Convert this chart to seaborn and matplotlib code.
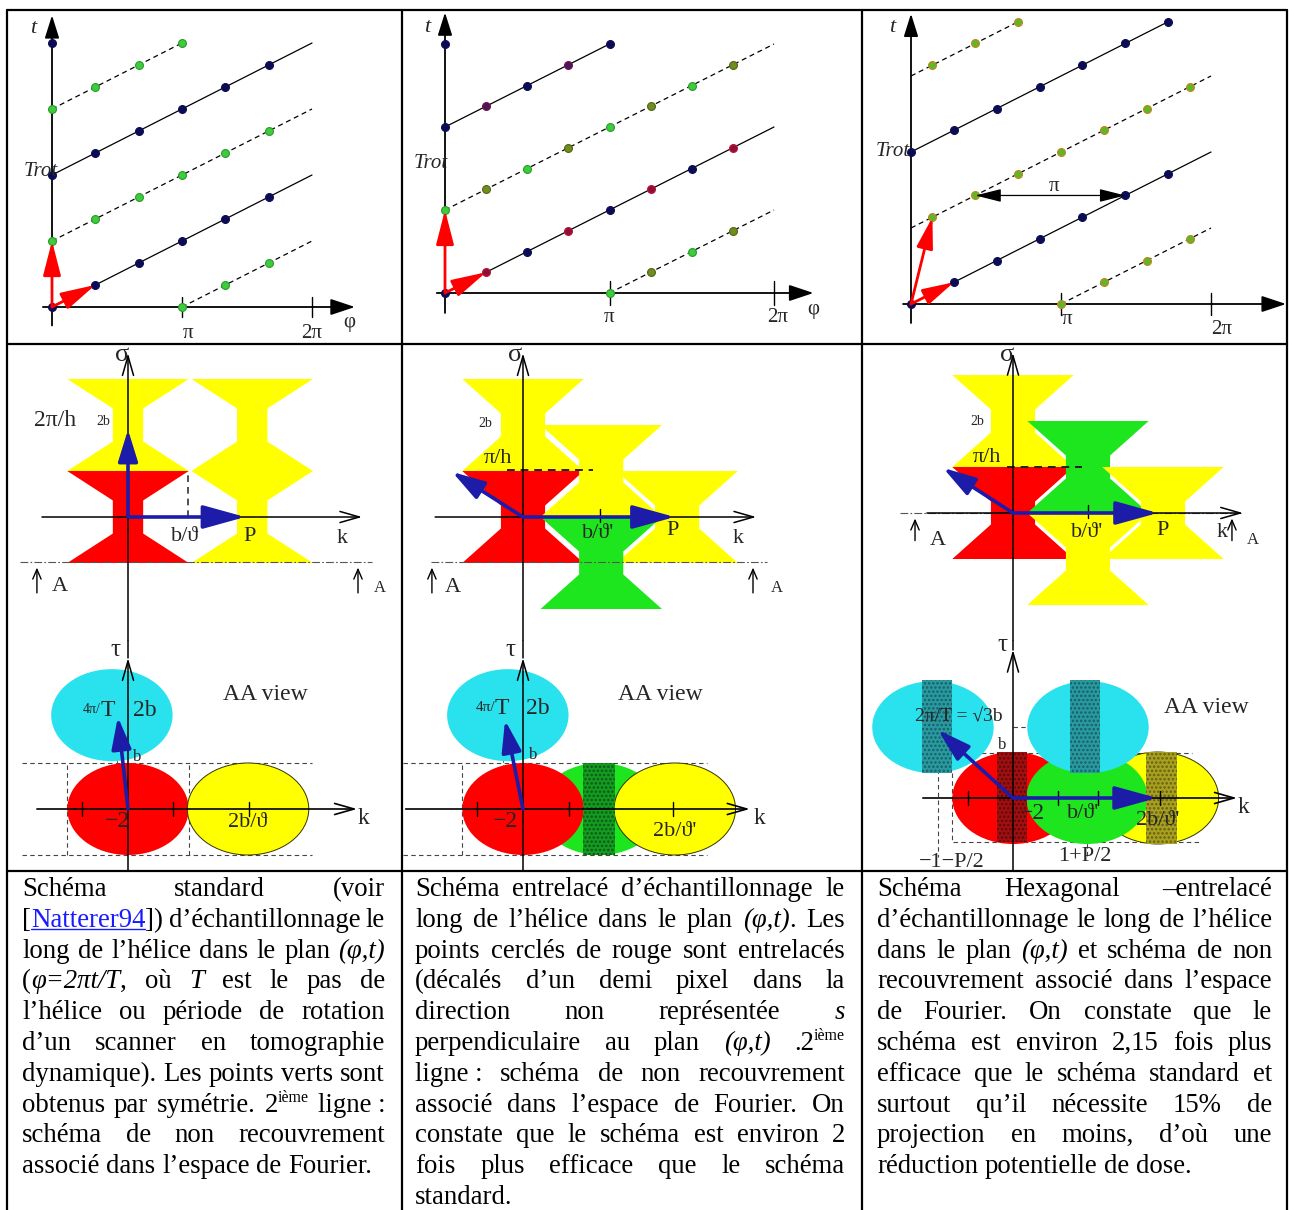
import re
import numpy as np
import pandas as pd
import matplotlib
matplotlib.use("Agg")
import matplotlib.pyplot as plt
import seaborn as sns
from matplotlib.patches import Polygon, Ellipse, Rectangle

sns.set_theme(style="white")
plt.rcParams["font.family"] = ["Liberation Serif", "DejaVu Serif"]
plt.rcParams["hatch.linewidth"] = 1.2

W_PX, H_PX = 1289, 1210

# ---------------- table layout (pixels) ----------------
COL_EDGES = [7, 402, 862, 1287]
ROW_EDGES = [10, 344, 871]
TABLE_BOTTOM = 1210
SPLIT_Y = 640

# ---------------- colours ----------------
RED, YELLOW, GREEN, CYAN = "#ff0000", "#ffff00", "#1ee61e", "#2ae2ee"
ARROW_BLUE, NAVY = "#1c1ca8", "#0c0c55"
DOT_GREEN, OLIVE, MAROON, PURPLE = "#3ccc3c", "#6d8f1c", "#8a1236", "#4a1660"
LINK_BLUE = "#1a1aff"

# ================= Row 1: sampling in (phi [pi], t [Trot]) =================
# panel 1 : standard
S1_BLUE_PHI = [0, 0.333, 0.667, 1.0, 1.333, 1.667, 0, 0.333, 0.667, 1.0, 1.333, 1.667, 0]
S1_BLUE_T = [0, 0.167, 0.333, 0.5, 0.667, 0.833, 1.0, 1.167, 1.333, 1.5, 1.667, 1.833, 2.0]
S1_GREEN_PHI = [0, 0.333, 0.667, 1.0, 1.333, 1.667, 0, 0.333, 0.667, 1.0, 1.0, 1.333, 1.667]
S1_GREEN_T = [0.5, 0.667, 0.833, 1.0, 1.167, 1.333, 1.5, 1.667, 1.833, 2.0, 0, 0.167, 0.333]
S1_SOLID_PHI = [[0, 2], [0, 2]]
S1_SOLID_T = [[0, 1], [1, 2]]
S1_DASH_PHI = [[0, 2], [0, 1], [1, 2]]
S1_DASH_T = [[0.5, 1.5], [1.5, 2.0], [0, 0.5]]
S1_RED_TIPS = [(0, 0.5), (0.333, 0.167)]

# panel 2 : interlaced
S2_BLUE_PHI = [0, 0.5, 1.0, 1.5, 0, 0.5, 1.0, 0]
S2_BLUE_T = [0, 0.25, 0.5, 0.75, 1.0, 1.25, 1.5, 1.5]
S2_PURPLE_PHI = [0.25, 0.75]
S2_PURPLE_T = [1.125, 1.375]
S2_RED_PHI = [0.25, 0.75, 1.25, 1.75]
S2_RED_T = [0.125, 0.375, 0.625, 0.875]
S2_GREEN_PHI = [0, 0.5, 1.0, 1.5, 1.0, 1.5]
S2_GREEN_T = [0.5, 0.75, 1.0, 1.25, 0, 0.25]
S2_OLIVE_PHI = [0.25, 0.75, 1.25, 1.75, 1.25, 1.75]
S2_OLIVE_T = [0.625, 0.875, 1.125, 1.375, 0.125, 0.375]
S2_SOLID_PHI = [[0, 2], [0, 1]]
S2_SOLID_T = [[0, 1], [1, 1.5]]
S2_DASH_PHI = [[0, 2], [1, 2]]
S2_DASH_T = [[0.5, 1.5], [0, 0.5]]
S2_RED_TIPS = [(0, 0.5), (0.25, 0.125)]

# panel 3 : hexagonal
S3_BLUE_PHI = [0, 0.286, 0.571, 0.857, 1.143, 1.429, 1.714, 0, 0.286, 0.571, 0.857, 1.143, 1.429, 1.714]
S3_BLUE_T = [0, 0.143, 0.286, 0.429, 0.571, 0.714, 0.857, 1.0, 1.143, 1.286, 1.429, 1.571, 1.714, 1.857]
S3_GREEN_PHI = [0.143, 0.429, 0.714, 1.0, 1.286, 1.571, 1.857, 0.143, 0.429, 0.714, 1.0, 1.286, 1.571, 1.857]
S3_GREEN_T = [0.571, 0.714, 0.857, 1.0, 1.143, 1.286, 1.429, 1.571, 1.714, 1.857, 0, 0.143, 0.286, 0.429]
S3_SOLID_PHI = [[0, 2], [0, 1.714]]
S3_SOLID_T = [[0, 1], [1, 1.857]]
S3_DASH_PHI = [[0, 2], [0, 0.714], [1, 2]]
S3_DASH_T = [[0.5, 1.5], [1.5, 1.857], [0, 0.5]]
S3_RED_TIPS = [(0.143, 0.571), (0.286, 0.143)]
S3_PI_SPAN = [(0.429, 0.714), (1.429, 0.714)]

# ================= Row 2a: non-overlap hourglasses (units of b) =================
# standard scheme (b/theta) and interlaced schemes (b/theta')
HG_X = [-1.32, 1.32, 0.33, 0.33, 1.32, -1.32, -0.33, -0.33]
HG_Y = [1.0, 1.0, 0.36, -0.36, -1.0, -1.0, -0.36, 0.36]
HG2_X = [-1.32, 1.32, 0.48, 0.48, 1.32, -1.32, -0.48, -0.48]
HG2_Y = [1.0, 1.0, 0.25, -0.25, -1.0, -1.0, -0.25, 0.25]
F1_CX = [0, 0, 2.7, 2.7]
F1_CY = [0, 2, 0, 2]
F1_COL = [RED, YELLOW, YELLOW, YELLOW]
F2_CX = [0, 0, 1.7, 3.35, 1.7]
F2_CY = [0, 2, 1, 0, -1]
F2_COL = [RED, YELLOW, YELLOW, YELLOW, GREEN]
F3_CX = [0, 0, 1.63, 3.26, 1.63]
F3_CY = [0, 2, 1, 0, -1]
F3_COL = [RED, YELLOW, GREEN, YELLOW, YELLOW]

# ================= Row 2b: AA view ellipses (units of b) =================
EW, EH = 1.32, 1.0
E1_CX = [0, 2.61, -0.35]
E1_CY = [0, 0, 2.04]
E1_COL = [RED, YELLOW, CYAN]
E2_CX = [1.67, 0, 3.3, -0.33]
E2_CY = [0, 0, 0, 2.04]
E2_COL = [GREEN, RED, YELLOW, CYAN]
E3_CX = [0, 3.15, 1.61, -1.74, 1.63]
E3_CY = [0, 0, 0, 1.54, 1.54]
E3_COL = [RED, YELLOW, GREEN, CYAN, CYAN]
E2_STRIPS = [(1.3, 2.0, -1.0, 1.0, "#159a22", "#0a5a12")]
E3_STRIPS = [(-1.98, -1.33, 0.54, 2.57, "#2a9aa0", "#156068"),
             (1.24, 1.89, 0.54, 2.57, "#2a9aa0", "#156068"),
             (-0.35, 0.30, -0.96, 1.0, "#a01010", "#600808"),
             (2.89, 3.57, -1.0, 1.0, "#a8a020", "#666010")]

# ================= Row 3: captions =================
COL1_TEXT = [
    "Schéma standard (voir",
    "[{u|Natterer94}]) d’échantillonnage le",
    "long de l’hélice dans le plan {i|(φ,t)}",
    "({i|φ=2πt/T}, où {i|T} est le pas de",
    "l’hélice ou période de rotation",
    "d’un scanner en tomographie",
    "dynamique). Les points verts sont",
    "obtenus par symétrie. 2{s|ième} ligne\u00a0:",
    "schéma de non recouvrement",
    "associé dans l’espace de Fourier.",
]
COL2_TEXT = [
    "Schéma entrelacé d’échantillonnage le",
    "long de l’hélice dans le plan {i|(φ,t)}. Les",
    "points cerclés de rouge sont entrelacés",
    "(décalés d’un demi pixel dans la",
    "direction non représentée {i|s}",
    "perpendiculaire au plan {i|(φ,t)} .2{s|ième}",
    "ligne\u00a0: schéma de non recouvrement",
    "associé dans l’espace de Fourier. On",
    "constate que le schéma est environ 2",
    "fois plus efficace que le schéma",
    "standard.",
]
COL3_TEXT = [
    "Schéma Hexagonal –entrelacé",
    "d’échantillonnage le long de l’hélice",
    "dans le plan {i|(φ,t)} et schéma de non",
    "recouvrement associé dans l’espace",
    "de Fourier. On constate que le",
    "schéma est environ 2,15 fois plus",
    "efficace que le schéma standard et",
    "surtout qu’il  nécessite 15% de",
    "projection en moins, d’où une",
    "réduction potentielle de dose.",
]
TEXT_MARGINS = [(22, 385), (415, 845), (877, 1272)]
TEXT_BASE0, TEXT_LEAD = 896, 30.8
CAL_LINE, CAL_WIDTH = "associé dans l’espace de Fourier.", 350

# =====================================================================
fig = plt.figure(figsize=(W_PX / 100, H_PX / 100), dpi=100)
bg = fig.add_axes([0, 0, 1, 1])
bg.set_xlim(0, W_PX)
bg.set_ylim(H_PX, 0)
bg.set_axis_off()

for x in COL_EDGES:
    bg.plot([x, x], [ROW_EDGES[0], TABLE_BOTTOM], color="black", lw=1.6)
for y in ROW_EDGES:
    bg.plot([COL_EDGES[0], COL_EDGES[-1]], [y, y], color="black", lw=1.6)


def add_panel(cell, origin, scale):
    x0, y0, x1, y1 = cell
    ax = fig.add_axes([x0 / W_PX, 1 - y1 / H_PX, (x1 - x0) / W_PX, (y1 - y0) / H_PX])
    ax.set_axis_off()
    lims = (((x0 - origin[0]) / scale[0], (x1 - origin[0]) / scale[0]),
            ((origin[1] - y1) / scale[1], (origin[1] - y0) / scale[1]))
    return ax, lims


def fix(ax, lims):
    ax.set_xlim(*lims[0])
    ax.set_ylim(*lims[1])


def arrow(ax, p0, p1, style="-|>", hl=0.65, hw=0.22, lw=1.2, color="black", ms=20, z=4):
    ax.annotate("", xy=p1, xytext=p0, annotation_clip=False,
                arrowprops=dict(arrowstyle=f"{style},head_length={hl},head_width={hw}",
                                color=color, lw=lw, shrinkA=0, shrinkB=0, mutation_scale=ms),
                zorder=z)


def seg_df(xs, ys):
    rows = []
    for k, (xx, yy) in enumerate(zip(xs, ys)):
        for a, b in zip(xx, yy):
            rows.append((k, a, b))
    return pd.DataFrame(rows, columns=["seg", "x", "y"])


def lines(ax, xs, ys, dashed=False, lw=0.9, color="black"):
    kw = dict(linestyle=(0, (4, 3))) if dashed else {}
    sns.lineplot(data=seg_df(xs, ys), x="x", y="y", units="seg", estimator=None, sort=False,
                 color=color, lw=lw, ax=ax, legend=False, zorder=2, **kw)


def dots(ax, xs, ys, face, edge, s=32):
    sns.scatterplot(x=xs, y=ys, ax=ax, color=face, edgecolor=edge, linewidth=0.8, s=s,
                    zorder=5, legend=False)


def txt(ax, x, y, s, size, **kw):
    kw.setdefault("ha", "center")
    kw.setdefault("va", "center")
    ax.text(x, y, s, fontsize=size, zorder=8, **kw)


# ---------------- Row 1 panels ----------------
def sampling_axes(ax, xr, yr, tick_y):
    arrow(ax, (0, yr[0]), (0, yr[1]), hl=0.7, hw=0.22, lw=1.3)
    arrow(ax, (xr[0], 0), (xr[1], 0), hl=0.75, hw=0.25, lw=1.3)
    for p in (1, 2):
        ax.plot([p, p], [-tick_y, tick_y], color="black", lw=1.0, zorder=3)


def red_arrows(ax, tips, hl=1.05, hw=0.27):
    for tip in tips:
        arrow(ax, (0, 0), tip, hl=hl, hw=hw, lw=2.0, color=RED, z=6)


# panel 1
ax, lim = add_panel((COL_EDGES[0], ROW_EDGES[0], COL_EDGES[1], ROW_EDGES[1]), (52, 307), (130, 132))
sampling_axes(ax, (-0.07, 2.33), (-0.14, 2.21), 0.076)
lines(ax, S1_SOLID_PHI, S1_SOLID_T)
lines(ax, S1_DASH_PHI, S1_DASH_T, dashed=True)
dots(ax, S1_BLUE_PHI, S1_BLUE_T, NAVY, NAVY)
dots(ax, S1_GREEN_PHI, S1_GREEN_T, DOT_GREEN, "#2a9a2a")
red_arrows(ax, S1_RED_TIPS)
txt(ax, -0.146, 2.11, "t", 16, style="italic")
txt(ax, -0.09, 1.03, "Trot", 15, style="italic")
txt(ax, 1.05, -0.20, "π", 15)
txt(ax, 2.0, -0.20, "2π", 15)
txt(ax, 2.29, -0.12, "φ", 15)
fix(ax, lim)

# panel 2
ax, lim = add_panel((COL_EDGES[1], ROW_EDGES[0], COL_EDGES[2], ROW_EDGES[1]), (445, 293), (164.5, 166))
sampling_axes(ax, (-0.05, 2.24), (-0.12, 1.69), 0.07)
lines(ax, S2_SOLID_PHI, S2_SOLID_T)
lines(ax, S2_DASH_PHI, S2_DASH_T, dashed=True)
dots(ax, S2_BLUE_PHI, S2_BLUE_T, NAVY, NAVY)
dots(ax, S2_PURPLE_PHI, S2_PURPLE_T, PURPLE, "#7a1040")
dots(ax, S2_RED_PHI, S2_RED_T, MAROON, "#c0103a")
dots(ax, S2_GREEN_PHI, S2_GREEN_T, DOT_GREEN, "#2a9a2a")
dots(ax, S2_OLIVE_PHI, S2_OLIVE_T, OLIVE, "#55601a")
red_arrows(ax, S2_RED_TIPS)
txt(ax, -0.11, 1.60, "t", 16, style="italic")
txt(ax, -0.085, 0.78, "Trot", 15, style="italic")
txt(ax, 1.0, -0.145, "π", 15)
txt(ax, 2.02, -0.145, "2π", 15)
txt(ax, 2.24, -0.10, "φ", 15)
fix(ax, lim)

# panel 3
ax, lim = add_panel((COL_EDGES[2], ROW_EDGES[0], COL_EDGES[3], ROW_EDGES[1]), (911, 304), (150, 152))
sampling_axes(ax, (-0.053, 2.5), (-0.125, 1.91), 0.07)
lines(ax, S3_SOLID_PHI, S3_SOLID_T)
lines(ax, S3_DASH_PHI, S3_DASH_T, dashed=True)
dots(ax, S3_BLUE_PHI, S3_BLUE_T, NAVY, NAVY)
dots(ax, S3_GREEN_PHI, S3_GREEN_T, "#5cb82a", "#c8821a")
red_arrows(ax, S3_RED_TIPS, hl=0.95, hw=0.25)
arrow(ax, S3_PI_SPAN[0], S3_PI_SPAN[1], style="<|-|>", hl=0.8, hw=0.2, lw=0.9, z=6)
txt(ax, 0.953, 0.77, "π", 15)
txt(ax, -0.127, 1.82, "t", 16, style="italic")
txt(ax, -0.12, 1.0, "Trot", 15, style="italic")
txt(ax, 1.04, -0.105, "π", 15)
txt(ax, 2.07, -0.17, "2π", 15)
fix(ax, lim)


# ---------------- Row 2a: hourglasses ----------------
def hourglasses(ax, cx, cy, cols, gx, gy):
    for x, y, c in zip(cx, cy, cols):
        pts = np.column_stack([np.array(gx) + x, np.array(gy) + y])
        ax.add_patch(Polygon(pts, closed=True, facecolor=c, edgecolor="none", zorder=1))


def aa_marks(ax, y_line, x_line, left, right):
    ax.plot(x_line, [y_line, y_line], color="#555555", lw=0.8, dashes=(7, 2, 1.5, 2), zorder=2)
    for (x, y0, y1) in (left, right):
        arrow(ax, (x, y0), (x, y1), style="->", hl=0.35, hw=0.15, lw=1.0, ms=20)


def blue_arrow(ax, tip, hl=1.3, hw=0.36):
    arrow(ax, (0, 0), tip, hl=hl, hw=hw, lw=2.6, color=ARROW_BLUE, z=6)


S = 46.0
# panel 4
ax, lim = add_panel((COL_EDGES[0], ROW_EDGES[1], COL_EDGES[1], SPLIT_Y), (128, 517), (S, S))
hourglasses(ax, F1_CX, F1_CY, F1_COL, HG_X, HG_Y)
aa_marks(ax, -0.98, [-2.35, 5.3], (-1.98, -1.65, -1.1), (5.0, -1.65, -1.1))
arrow(ax, (0, lim[1][0]), (0, 3.56), style="->", hl=0.7, hw=0.2, lw=1.1)
arrow(ax, (-1.87, 0), (5.09, 0), style="->", hl=0.7, hw=0.2, lw=1.1)
ax.plot([1.3, 1.3], [0, 1], color="#333333", lw=1.2, dashes=(4, 3), zorder=3)
ax.plot([1.67, 1.67], [-0.1, 0.18], color="black", lw=1.0, zorder=3)
blue_arrow(ax, (2.55, 0))
blue_arrow(ax, (0, 1.9), hl=0.97, hw=0.3)
txt(ax, -0.13, 3.52, "σ", 19)
txt(ax, -1.59, 2.10, "2π/h", 17)
txt(ax, -0.54, 2.07, "2b", 10)
txt(ax, 1.24, -0.43, "b/ϑ", 16)
txt(ax, 2.65, -0.43, "P", 16)
txt(ax, 4.65, -0.46, "k", 16)
txt(ax, -1.48, -1.52, "A", 16)
txt(ax, 5.48, -1.54, "A", 12)
fix(ax, lim)

# panel 5
ax, lim = add_panel((COL_EDGES[1], ROW_EDGES[1], COL_EDGES[2], SPLIT_Y), (523, 517), (S, S))
hourglasses(ax, F2_CX, F2_CY, F2_COL, HG2_X, HG2_Y)
aa_marks(ax, -0.98, [-2.0, 5.3], (-1.98, -1.65, -1.1), (5.0, -1.65, -1.1))
arrow(ax, (0, lim[1][0]), (0, 3.56), style="->", hl=0.7, hw=0.2, lw=1.1)
arrow(ax, (-1.91, 0), (5.07, 0), style="->", hl=0.7, hw=0.2, lw=1.1)
ax.plot([-0.35, 1.52], [1.02, 1.02], color="#222222", lw=1.4, dashes=(4, 3), zorder=3)
ax.plot([1.67, 1.67], [-0.1, 0.18], color="black", lw=1.0, zorder=3)
blue_arrow(ax, (3.3, 0))
blue_arrow(ax, (-1.54, 0.98), hl=1.0, hw=0.3)
txt(ax, -0.17, 3.52, "σ", 19)
txt(ax, -0.83, 2.04, "2b", 10)
txt(ax, -0.54, 1.28, "π/h", 16)
txt(ax, 1.63, -0.35, "b/ϑ'", 16)
txt(ax, 3.26, -0.30, "P", 16)
txt(ax, 4.67, -0.46, "k", 16)
txt(ax, -1.52, -1.54, "A", 16)
txt(ax, 5.52, -1.54, "A", 12)
fix(ax, lim)

# panel 6
ax, lim = add_panel((COL_EDGES[2], ROW_EDGES[1], COL_EDGES[3], SPLIT_Y), (1013, 513), (S, S))
hourglasses(ax, F3_CX, F3_CY, F3_COL, HG2_X, HG2_Y)
aa_marks(ax, 0.0, [-2.46, 5.0], (-2.13, -0.6, -0.12), (4.76, -0.6, -0.12))
arrow(ax, (0, lim[1][0]), (0, 3.48), style="->", hl=0.7, hw=0.2, lw=1.1)
arrow(ax, (-1.87, 0), (5.0, 0), style="->", hl=0.7, hw=0.2, lw=1.1)
ax.plot([-0.13, 1.5], [1.0, 1.0], color="#222222", lw=1.4, dashes=(4, 3), zorder=3)
ax.plot([1.63, 1.63], [-0.1, 0.18], color="black", lw=1.0, zorder=3)
blue_arrow(ax, (3.15, 0))
blue_arrow(ax, (-1.52, 0.98), hl=1.0, hw=0.3)
txt(ax, -0.13, 3.43, "σ", 19)
txt(ax, -0.78, 1.98, "2b", 10)
txt(ax, -0.57, 1.20, "π/h", 16)
txt(ax, 1.61, -0.43, "b/ϑ'", 16)
txt(ax, 3.26, -0.37, "P", 16)
txt(ax, 4.54, -0.43, "k", 16)
txt(ax, -1.63, -0.59, "A", 16)
txt(ax, 5.22, -0.59, "A", 12)
fix(ax, lim)


# ---------------- Row 2b: AA views ----------------
def ellipses(ax, cx, cy, cols):
    for x, y, c in zip(cx, cy, cols):
        ec = "#333300" if c == YELLOW else "none"
        ax.add_patch(Ellipse((x, y), 2 * EW, 2 * EH, facecolor=c, edgecolor=ec, lw=0.7, zorder=2))


def strips(ax, items):
    for x0, x1, y0, y1, fc, hc in items:
        ax.add_patch(Rectangle((x0, y0), x1 - x0, y1 - y0, facecolor=fc, edgecolor=hc,
                               hatch="....", lw=0, zorder=3))


def dash(ax, xs, ys, lw=0.8):
    ax.plot(xs, ys, color="#444444", lw=lw, dashes=(4, 3), zorder=1)


def ticks(ax, xs, h=0.16):
    for x in xs:
        ax.plot([x, x], [-h, h], color="black", lw=1.0, zorder=5)


def tau_axis(ax, lim, top):
    arrow(ax, (0, lim[1][0]), (0, top), style="->", hl=0.7, hw=0.2, lw=1.1)
    ax.plot([0, 0], [top, lim[1][1]], color="black", lw=1.1, zorder=4)


# panel 7
ax, lim = add_panel((COL_EDGES[0], SPLIT_Y, COL_EDGES[1], ROW_EDGES[2]), (128, 809), (S, S))
dash(ax, [-2.3, 4.0], [1, 1]); dash(ax, [-2.3, 4.0], [-1, -1])
dash(ax, [-1.33, -1.33], [-1, 1]); dash(ax, [1.32, 1.32], [-1, 1])
dash(ax, [-0.24, -0.24], [1, 2.04], lw=0.6)
ellipses(ax, E1_CX, E1_CY, E1_COL)
arrow(ax, (-1.98, 0), (4.98, 0), style="->", hl=0.7, hw=0.2, lw=1.2)
tau_axis(ax, lim, 3.28)
ticks(ax, [-1.0, 0.98, 2.63])
blue_arrow(ax, (-0.22, 2.0), hl=0.97, hw=0.3)
txt(ax, -0.28, 3.46, "τ", 18)
txt(ax, 5.13, -0.20, "k", 17)
txt(ax, 2.98, 2.48, "AA view", 17)
txt(ax, -0.6, 2.17, "4π/", 10, ha="right")
txt(ax, -0.44, 2.15, "T", 17)
txt(ax, 0.37, 2.15, "2b", 17)
txt(ax, 0.2, 1.13, "b", 12)
txt(ax, -0.22, -0.28, "−2", 17)
txt(ax, 2.6, -0.30, "2b/ϑ", 16)
fix(ax, lim)

# panel 8
ax, lim = add_panel((COL_EDGES[1], SPLIT_Y, COL_EDGES[2], ROW_EDGES[2]), (523, 809), (S, S))
dash(ax, [-2.6, 4.0], [1, 1]); dash(ax, [-2.6, 4.0], [-1, -1])
dash(ax, [-1.33, -1.33], [-1, 1])
dash(ax, [-0.43, -0.43], [0, 1.93], lw=0.6)
ellipses(ax, E2_CX, E2_CY, E2_COL)
strips(ax, E2_STRIPS)
arrow(ax, (-2.55, 0), (4.93, 0), style="->", hl=0.7, hw=0.2, lw=1.2)
tau_axis(ax, lim, 3.28)
ticks(ax, [-1.0, 1.0, 3.26])
blue_arrow(ax, (-0.39, 1.93), hl=0.97, hw=0.3)
txt(ax, -0.28, 3.46, "τ", 18)
txt(ax, 5.15, -0.20, "k", 17)
txt(ax, 2.98, 2.48, "AA view", 17)
txt(ax, -0.6, 2.2, "4π/", 11, ha="right")
txt(ax, -0.45, 2.18, "T", 17)
txt(ax, 0.33, 2.18, "2b", 17)
txt(ax, 0.22, 1.17, "b", 12)
txt(ax, -0.39, -0.28, "−2", 17)
txt(ax, 3.3, -0.50, "2b/ϑ'", 16)
fix(ax, lim)

# panel 9
ax, lim = add_panel((COL_EDGES[2], SPLIT_Y, COL_EDGES[3], ROW_EDGES[2]), (1013, 798), (S, S))
dash(ax, [0, 1.67], [1.54, 1.54]); dash(ax, [-1.87, 3.9], [0.98, 0.98]); dash(ax, [-1.3, 4.07], [-0.96, -0.96])
dash(ax, [-1.63, -1.63], [1.48, -1.28]); dash(ax, [-1.33, -1.33], [0.54, -0.96])
dash(ax, [1.3, 1.3], [0.98, -0.96]); dash(ax, [1.61, 1.61], [1.54, -1.28])
ellipses(ax, E3_CX, E3_CY, E3_COL)
strips(ax, E3_STRIPS)
arrow(ax, (-1.96, 0), (4.87, 0), style="->", hl=0.7, hw=0.2, lw=1.2)
tau_axis(ax, lim, 3.22)
ticks(ax, [-0.98, 0.98, 1.85, 3.2])
blue_arrow(ax, (-1.63, 1.48), hl=1.0, hw=0.3)
blue_arrow(ax, (3.13, 0))
txt(ax, -0.24, 3.33, "τ", 18)
txt(ax, 5.0, -0.20, "k", 17)
txt(ax, 4.2, 1.96, "AA view", 17)
txt(ax, -2.13, 1.76, "2π/T = √3b", 14, ha="left")
txt(ax, -0.24, 1.15, "b", 12)
txt(ax, 0.43, -0.33, "−2", 17)
txt(ax, 1.52, -0.33, "b/ϑ'", 16)
txt(ax, 3.15, -0.48, "2b/ϑ'", 16)
txt(ax, -1.33, -1.40, "−1−P/2", 16)
txt(ax, 1.57, -1.27, "1+P/2", 16)
fix(ax, lim)

# ---------------- Row 3: justified captions ----------------
renderer = fig.canvas.get_renderer()
SEG_RE = re.compile(r"\{([ius])\|([^}]*)\}|([^{]+)")


def width_of(s, fs, **kw):
    t = bg.text(0, 0, s, fontsize=fs, **kw)
    w = t.get_window_extent(renderer).width
    t.remove()
    return w


FS = 10 * CAL_WIDTH / width_of(CAL_LINE, 10)
FS_PX = FS / 0.72
SPACE_W = width_of("n n", FS) - width_of("nn", FS)


def make_seg(style, s):
    kw = dict(fontsize=FS, va="baseline", ha="left", color="black", zorder=5)
    if style == "i":
        kw["style"] = "italic"
    elif style == "u":
        kw["color"] = LINK_BLUE
    elif style == "s":
        kw["fontsize"] = FS * 0.6
    t = bg.text(0, 0, s, **kw)
    return t, t.get_window_extent(renderer).width, style


for lines_, (L, R) in zip([COL1_TEXT, COL2_TEXT, COL3_TEXT], TEXT_MARGINS):
    for i, line in enumerate(lines_):
        base = TEXT_BASE0 + i * TEXT_LEAD
        words = [w for w in line.split(" ") if w]
        items = []
        for w in words:
            segs = []
            for m in SEG_RE.finditer(w):
                if m.group(3) is not None:
                    segs.append(make_seg("n", m.group(3)))
                else:
                    segs.append(make_seg(m.group(1), m.group(2)))
            items.append(segs)
        widths = [sum(s[1] for s in segs) for segs in items]
        justify = i < len(lines_) - 1 and len(words) > 1
        gap = (R - L - sum(widths)) / (len(words) - 1) if justify else SPACE_W
        x = L
        for segs, ww in zip(items, widths):
            for t, w_, st in segs:
                y = base - FS_PX * 0.36 if st == "s" else base
                t.set_position((x, y))
                if st == "u":
                    bg.plot([x, x + w_], [base + 2.5, base + 2.5], color=LINK_BLUE, lw=1.0)
                x += w_
            x += gap

fig.savefig("out.png", dpi=100)
